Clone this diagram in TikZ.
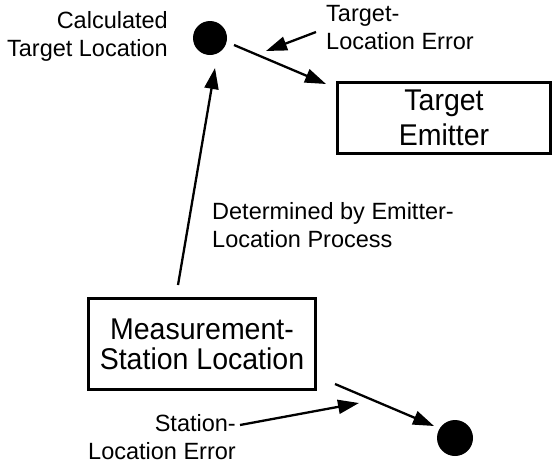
\documentclass[tikz,border=0pt]{standalone}
\usepackage{fontspec}
\setmainfont{Liberation Sans}
\newfontfamily\boxfont[FakeStretch=0.95]{Liberation Sans}
\usetikzlibrary{arrows.meta}
\tikzset{
  lbl/.style={inner sep=0pt, font=\fontsize{23.5}{28}\selectfont},
  boxnode/.style={draw, line width=3.4pt, inner sep=0pt, align=center},
  dotnode/.style={circle, fill=black, inner sep=0pt},
  arr/.style={line width=2.3pt, -{Triangle[length=21pt,width=14pt]}},
}
\begin{document}
\begin{tikzpicture}[x=1pt,y=-1pt]
\useasboundingbox (0,0) rectangle (556,464);
% dots
\node[dotnode, minimum size=34pt] (dot1) at (210,38) {};
\node[dotnode, minimum size=36pt] (dot2) at (455,438) {};
% boxes
\node[boxnode, minimum width=213pt, minimum height=71pt, font=\boxfont\fontsize{30}{35}\selectfont] (emit) at (444,118) {Target\\Emitter};
\node[boxnode, minimum width=227pt, minimum height=91pt, font=\boxfont\fontsize{30}{30}\selectfont] (meas) at (202,344) {Measurement-\\Station Location};
% labels
\node[lbl, align=right, anchor=east] (calc) at (168,36) {Calculated\\Target Location};
\node[lbl, align=left, anchor=west] (tle) at (326,28) {Target-\\Location Error};
\node[lbl, align=left, anchor=west] (det) at (212,225) {Determined by Emitter-\\Location Process};
\node[lbl, align=right, anchor=east] (sle) at (236,437) {Station-\\Location Error};
% arrow end points
\coordinate (vS) at (178,285);
\coordinate (vE) at (215,68);
\coordinate (tS) at (234,45);
\coordinate (tE) at (326,84);
\coordinate (tleS) at (316,32);
\coordinate (tleE) at (266,51);
\coordinate (mS) at (335,384);
\coordinate (mE) at (434,426);
\coordinate (sleS) at (240,425);
\coordinate (sleE) at (359,403);
% arrows
\draw[arr] (vS) -- (vE);
\draw[arr] (tS) -- (tE);
\draw[arr] (tleS) -- (tleE);
\draw[arr] (mS) -- (mE);
\draw[arr] (sleS) -- (sleE);
\end{tikzpicture}
\end{document}
